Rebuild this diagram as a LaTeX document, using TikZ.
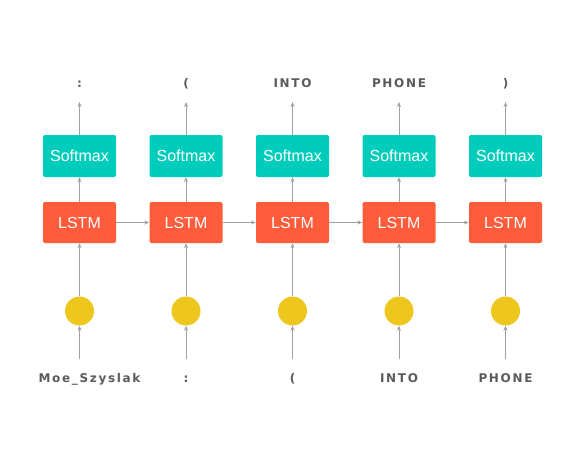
\documentclass[tikz,border=0pt]{standalone}
\usepackage{fontspec}
\setmainfont{Liberation Sans}
\newfontfamily\lblfont[LetterSpace=14]{DejaVu Sans Bold}
\usetikzlibrary{arrows.meta}
\definecolor{smcol}{HTML}{00CCBB}
\definecolor{lstmcol}{HTML}{FF5C3B}
\definecolor{embcol}{HTML}{EDC71D}
\definecolor{arrcol}{HTML}{A0A0A0}
\definecolor{txtcol}{HTML}{5A5A5A}
\begin{document}
\begin{tikzpicture}[x=1pt,y=-1pt,
  smbox/.style={fill=smcol,rounded corners=2pt,minimum width=73pt,minimum height=42pt,inner sep=0pt,text=white,font=\fontsize{16}{18}\selectfont},
  lstmbox/.style={fill=lstmcol,rounded corners=2pt,minimum width=73pt,minimum height=41pt,inner sep=0pt,text=white,font=\fontsize{16}{18}\selectfont},
  emb/.style={circle,fill=embcol,minimum size=29pt,inner sep=0pt},
  lbl/.style={text=txtcol,font=\lblfont\fontsize{12}{14}\selectfont,anchor=base,inner sep=0pt},
  arr/.style={draw=arrcol,line width=0.9pt,-{Stealth[length=5pt,width=4pt]}}]
\useasboundingbox (0,0) rectangle (585,464);
\foreach \i/\x/\lx/\outw/\inw in {1/79.5/89.5/{:}/{Moe\_Szyslak},2/186/186/{(}/{:},3/292.5/292.5/{INTO}/{(},4/399/399/{PHONE}/{INTO},5/505.5/505.5/{)}/{PHONE}}{
  \node[smbox] (s\i) at (\x,156) {Softmax};
  \node[lstmbox] (l\i) at (\x,222.5) {LSTM};
  \node[emb] (e\i) at (\x,311) {};
  \node[lbl] (o\i) at (\x,87) {\outw};
  \node[lbl] (n\i) at (\lx,382) {\inw};
  \coordinate (ot\i) at (\x,102);
  \coordinate (ib\i) at (\x,359);
  \draw[arr] (s\i.north) -- (ot\i);
  \draw[arr] (l\i.north) -- (s\i.north |- s\i.south);
  \draw[arr] (e\i.north) -- (l\i.south);
  \draw[arr] (ib\i) -- (e\i.south);
}
\foreach \a/\b in {1/2,2/3,3/4,4/5}{
  \draw[arr] (l\a.east) -- (l\b.west);
}
\end{tikzpicture}
\end{document}
